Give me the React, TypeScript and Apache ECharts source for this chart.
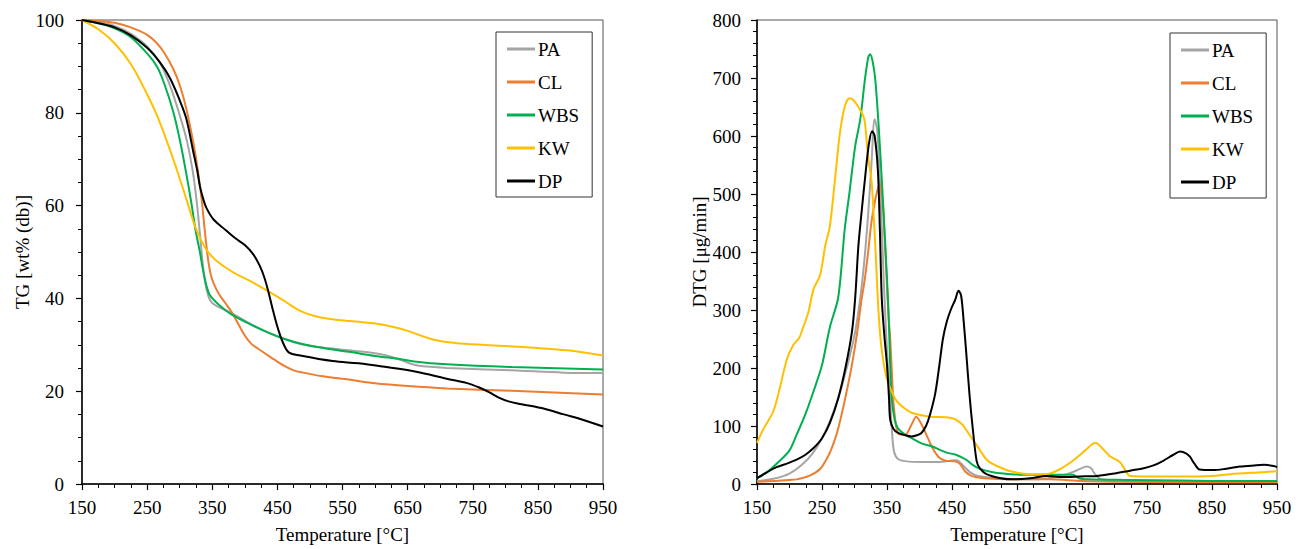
import React, { useEffect, useRef } from "react";
import * as echarts from "echarts";

const seriesNames = ["PA", "CL", "WBS", "KW", "DP"];
const seriesColors = ["#A5A5A5", "#ED7D31", "#00B050", "#FFC000", "#000000"];

// ---------- TG (left) ----------
const tgPaT = [150, 175, 200, 225, 250, 270, 285, 300, 311, 320, 326, 331, 335, 339, 344, 350, 365, 380, 400, 430, 460, 490, 520, 560, 600, 620, 640, 660, 680, 710, 810, 890, 950];
const tgPaV = [100, 99.6, 98.7, 97, 94.3, 90.7, 85.9, 79.5, 74, 67.5, 61, 54, 48, 43.5, 40.5, 39, 37.8, 36.8, 35.2, 33, 31.3, 30, 29.4, 28.8, 28.2, 27.6, 26.7, 25.7, 25.3, 25, 24.5, 24, 23.9];

const tgClT = [150, 175, 200, 225, 250, 265, 275, 290, 300, 310, 321, 328, 334, 339, 344, 348, 352, 360, 370, 380, 390, 400, 410, 420, 440, 460, 475, 490, 520, 560, 600, 650, 710, 810, 950];
const tgClV = [100, 99.8, 99.4, 98.4, 96.8, 95, 93.2, 89.5, 86, 81, 73.5, 67.5, 61, 54, 48, 45, 43.3, 41, 39, 37, 34.5, 32, 30.2, 29.2, 27.3, 25.5, 24.5, 24, 23.2, 22.5, 21.7, 21.1, 20.6, 20.1, 19.3];

const tgWbsT = [150, 175, 200, 225, 250, 265, 275, 290, 300, 310, 318, 324, 331, 336, 341, 346, 355, 370, 380, 400, 430, 460, 490, 520, 560, 600, 640, 660, 710, 810, 950];
const tgWbsV = [100, 99.3, 98.2, 96.3, 92.8, 90, 86.8, 80.3, 74.3, 67, 60.5, 55, 50, 46, 42.8, 40.8, 39.3, 37.5, 36.5, 35, 33, 31.3, 30.1, 29.3, 28.5, 27.6, 26.9, 26.4, 25.8, 25.2, 24.7];

const tgKwT = [150, 175, 200, 225, 250, 265, 280, 295, 310, 325, 340, 355, 380, 410, 435, 460, 485, 510, 540, 570, 605, 630, 650, 670, 690, 710, 730, 790, 850, 895, 950];
const tgKwV = [100, 98, 95, 90.5, 84, 79.5, 74, 68, 61.5, 55, 50.7, 48.3, 45.8, 43.6, 41.6, 39.5, 37.3, 36.1, 35.4, 35, 34.5, 33.8, 33, 32, 31.1, 30.6, 30.3, 29.8, 29.3, 28.8, 27.7];

const tgDpT = [150, 175, 200, 225, 250, 270, 285, 300, 310, 321, 327, 331, 336, 341, 352, 370, 385, 400, 413, 423, 430, 437, 444, 452, 460, 468, 485, 535, 575, 612, 663, 710, 740, 760, 775, 790, 805, 825, 860, 890, 920, 950];
const tgDpV = [100, 99.3, 98.4, 96.7, 94, 90.8, 87.5, 82.7, 78.8, 71.5, 67.5, 64.2, 61.5, 59.5, 57, 54.8, 53, 51.5, 49.5, 47, 44.5, 41, 37, 33, 30, 28.3, 27.7, 26.5, 26, 25.3, 24.2, 22.7, 21.8, 20.8, 19.8, 18.6, 17.8, 17.2, 16.2, 15, 13.8, 12.4];

// ---------- DTG (right) ----------
const dtgPaT = [150, 175, 200, 219, 235, 250, 262, 275, 288, 301, 312, 320, 326, 331, 335, 340, 345, 350, 355, 358, 361, 367, 380, 403, 430, 447, 457, 467, 478, 490, 520, 560, 600, 630, 647, 657, 664, 670, 680, 720, 800, 900, 950];
const dtgPaV = [5, 9, 18, 33, 52, 79, 108, 148, 200, 262, 350, 450, 550, 629, 610, 500, 350, 230, 140, 85, 55, 43, 39, 38, 38, 40, 41, 32, 20, 14, 10, 8, 10, 18, 26, 30, 27, 17, 8, 6, 5, 4, 4];

const dtgClT = [150, 175, 200, 211, 230, 247, 258, 265, 273, 280, 288, 296, 304, 311, 316, 321, 326, 331, 336, 339, 343, 347, 352, 355, 358, 360, 364, 368, 378, 388, 395, 402, 413, 420, 429, 440, 454, 462, 470, 480, 500, 540, 600, 650, 700, 800, 950];
const dtgClV = [4, 5, 7, 8, 14, 26, 45, 62, 88, 119, 160, 205, 260, 319, 354, 400, 451, 485, 510, 517, 490, 411, 296, 250, 180, 140, 100, 86, 85, 103, 116, 105, 79, 62, 47, 40, 39, 35, 22, 14, 10, 8, 8, 5, 4, 3, 3];

const dtgWbsT = [150, 165, 185, 200, 211, 224, 237, 250, 262, 275, 285, 292, 301, 309, 316, 321, 324, 328, 332, 337, 342, 347, 352, 357, 362, 367, 378, 388, 403, 419, 442, 455, 465, 473, 483, 493, 515, 540, 560, 600, 636, 645, 660, 720, 800, 900, 950];
const dtgWbsV = [10, 20, 40, 58, 85, 119, 160, 205, 270, 322, 440, 500, 582, 630, 697, 735, 741, 728, 697, 620, 525, 420, 306, 150, 110, 96, 85, 79, 70, 65, 54, 51, 46, 41, 32, 26, 20, 17, 16, 16, 16, 10, 8, 7, 6, 5, 5];

const dtgKwT = [150, 160, 175, 185, 196, 206, 215, 221, 229, 237, 247, 255, 262, 270, 277, 283, 288, 293, 300, 306, 313, 316, 321, 326, 329, 332, 337, 342, 349, 357, 365, 380, 390, 416, 440, 452, 460, 467, 475, 483, 495, 505, 519, 540, 570, 596, 615, 637, 655, 665, 671, 680, 693, 708, 716, 724, 760, 800, 850, 878, 920, 950];
const dtgKwV = [71, 95, 125, 165, 215, 240, 252, 270, 296, 336, 360, 411, 444, 525, 600, 642, 660, 665, 660, 650, 636, 623, 564, 525, 474, 411, 296, 230, 185, 160, 143, 128, 122, 116, 115, 113, 108, 101, 88, 75, 55, 40, 31, 22, 17, 17, 25, 41, 58, 68, 71, 63, 48, 38, 25, 14, 13, 13, 14, 17, 20, 22];

const dtgDpT = [150, 165, 180, 198, 211, 224, 237, 250, 262, 275, 286, 296, 301, 306, 311, 316, 322, 327, 331, 336, 339, 342, 346, 350, 353, 355, 360, 367, 378, 388, 396, 403, 410, 416, 424, 430, 436, 442, 448, 455, 460, 464, 468, 472, 477, 482, 488, 493, 503, 525, 544, 570, 596, 620, 647, 673, 700, 724, 745, 760, 775, 790, 801, 810, 816, 823, 831, 852, 870, 893, 915, 930, 945, 950];
const dtgDpV = [10, 20, 29, 36, 42, 50, 62, 79, 105, 148, 200, 262, 320, 411, 470, 525, 585, 608, 600, 540, 440, 319, 255, 205, 150, 110, 95, 88, 84, 82, 84, 88, 100, 119, 155, 200, 250, 280, 300, 318, 333, 325, 280, 225, 153, 95, 39, 27, 17, 10, 8, 10, 14, 12, 13, 14, 18, 23, 27, 32, 40, 50, 56, 53, 47, 35, 25, 24, 26, 30, 32, 33, 31, 29];

const tgT = [tgPaT, tgClT, tgWbsT, tgKwT, tgDpT];
const tgV = [tgPaV, tgClV, tgWbsV, tgKwV, tgDpV];
const dtgT = [dtgPaT, dtgClT, dtgWbsT, dtgKwT, dtgDpT];
const dtgV = [dtgPaV, dtgClV, dtgWbsV, dtgKwV, dtgDpV];

const zip = (a: number[], b: number[]) => a.map((t, i) => [t, b[i]]);

const FONT = "Liberation Serif";

function xAxisOf(gridIndex: number) {
  return {
    type: "value",
    gridIndex,
    min: 150,
    max: 950,
    interval: 100,
    name: "Temperature [°C]",
    nameLocation: "middle",
    nameGap: 41,
    nameTextStyle: { fontFamily: FONT, fontSize: 19, color: "#000" },
    axisLine: { show: true, onZero: false, lineStyle: { color: "#000", width: 1.5 } },
    axisTick: { show: true, inside: false, length: 6, lineStyle: { color: "#000", width: 1.2 } },
    minorTick: { show: true, splitNumber: 4, length: 4, lineStyle: { color: "#000", width: 1 } },
    splitLine: { show: false },
    minorSplitLine: { show: false },
    axisLabel: { fontFamily: FONT, fontSize: 19, color: "#000", margin: 14 },
  };
}

function yAxisOf(gridIndex: number, max: number, interval: number, minorSplit: number, name: string, nameGap: number, margin: number) {
  return {
    type: "value",
    gridIndex,
    min: 0,
    max,
    interval,
    name,
    nameLocation: "middle",
    nameGap,
    nameRotate: 90,
    nameTextStyle: { fontFamily: FONT, fontSize: 19, color: "#000" },
    axisLine: { show: true, onZero: false, lineStyle: { color: "#000", width: 1.5 } },
    axisTick: { show: true, inside: false, length: 6, lineStyle: { color: "#000", width: 1.2 } },
    minorTick: { show: true, splitNumber: minorSplit, length: 4, lineStyle: { color: "#000", width: 1 } },
    splitLine: { show: false },
    minorSplitLine: { show: false },
    axisLabel: { fontFamily: FONT, fontSize: 19, color: "#000", margin },
  };
}

function legendOf(left: number, top: number) {
  return {
    orient: "vertical",
    left,
    top,
    data: seriesNames,
    icon: "rect",
    itemWidth: 28,
    itemHeight: 3,
    itemGap: 13,
    padding: [7, 13, 6, 11],
    borderColor: "#333",
    borderWidth: 1,
    borderRadius: 0,
    backgroundColor: "#fff",
    textStyle: { fontFamily: FONT, fontSize: 19, color: "#000", lineHeight: 20, padding: [0, 0, 0, -2] },
  };
}

export default function App() {
  const ref = useRef<HTMLDivElement>(null);
  useEffect(() => {
    if (!ref.current) return;
    const chart = echarts.init(ref.current, null, { renderer: "svg" });
    const series: any[] = [];
    seriesNames.forEach((name, i) => {
      series.push({
        name,
        type: "line",
        xAxisIndex: 0,
        yAxisIndex: 0,
        data: zip(tgT[i], tgV[i]),
        showSymbol: false,
        symbol: "none",
        smooth: 0.35,
        lineStyle: { color: seriesColors[i], width: 2 },
        itemStyle: { color: seriesColors[i] },
        z: 2 + i,
      });
    });
    seriesNames.forEach((name, i) => {
      series.push({
        name,
        type: "line",
        xAxisIndex: 1,
        yAxisIndex: 1,
        data: zip(dtgT[i], dtgV[i]),
        showSymbol: false,
        symbol: "none",
        smooth: 0.3,
        lineStyle: { color: seriesColors[i], width: 2 },
        itemStyle: { color: seriesColors[i] },
        z: 2 + i,
      });
    });
    chart.setOption({
      animation: false,
      backgroundColor: "#fff",
      grid: [
        { left: 82, top: 20, width: 521, height: 466, show: true, borderColor: "#555", borderWidth: 1, backgroundColor: "transparent" },
        { left: 757, top: 20, width: 520, height: 466, show: true, borderColor: "#555", borderWidth: 1, backgroundColor: "transparent" },
      ],
      xAxis: [xAxisOf(0), xAxisOf(1)],
      yAxis: [
        yAxisOf(0, 100, 20, 4, "TG [wt% (db)]", 50, 18),
        yAxisOf(1, 800, 100, 5, "DTG [μg/min]", 48, 16),
      ],
      legend: [legendOf(496, 32), legendOf(1170, 33)],
      series,
    });
    return () => chart.dispose();
  }, []);
  return <div ref={ref} style={{ position: "absolute", left: 0, top: 0, width: 1306, height: 549 }} />;
}
